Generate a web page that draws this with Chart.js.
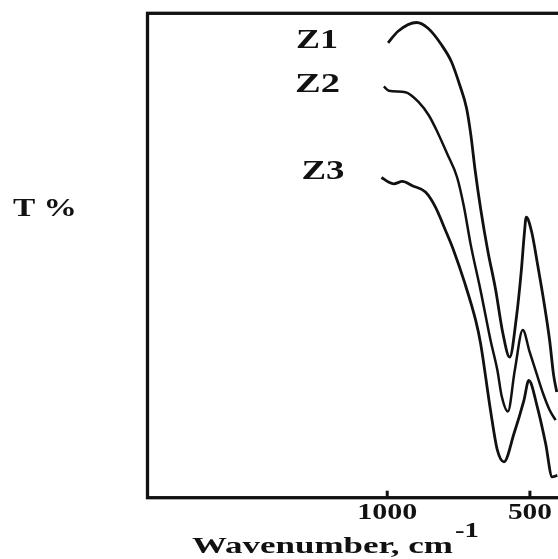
<!DOCTYPE html>
<html>
<head>
<meta charset="utf-8">
<script src="https://cdn.jsdelivr.net/npm/chart.js@4.4.1/dist/chart.umd.min.js"></script>
<style>
  html, body { margin: 0; padding: 0; background: #fff; overflow: hidden; }
  #wrap { width: 600px; height: 559px; }
</style>
</head>
<body>
<div id="wrap"><canvas id="ir-canvas" width="600" height="559"></canvas></div>
<script>
// 読み取り値 (cm-1, T%)
const z1Wave = [997, 962, 897, 857, 810, 775, 746, 722, 707, 692, 672, 648, 620, 595, 571, 547, 530, 520, 513, 494, 473, 452, 431, 417, 406];
const z1T    = [93.9, 96.3, 98.1, 96.9, 93.5, 90.0, 85.2, 80.4, 74.9, 67.6, 59.4, 51.1, 42.9, 34.0, 29.0, 37.4, 47.0, 54.2, 57.9, 54.9, 48.1, 40.8, 32.5, 25.3, 21.8];

const z2Wave = [1012, 994, 936, 889, 854, 825, 790, 755, 731, 708, 673, 638, 614, 599, 577, 553, 525, 501, 476, 452, 431, 410];
const z2T    = [84.9, 84.0, 83.7, 81.6, 78.9, 75.6, 71.0, 66.1, 60.0, 52.4, 42.8, 32.5, 26.3, 21.0, 17.8, 26.3, 34.6, 30.1, 25.5, 21.2, 18.1, 16.0];

const z3Wave = [1020, 994, 977, 947, 912, 866, 831, 796, 767, 731, 690, 673, 638, 614, 591, 556, 521, 504, 474, 445, 422, 404];
const z3T    = [66.1, 65.1, 64.8, 65.3, 64.4, 63.1, 60.0, 55.2, 51.0, 44.8, 36.6, 31.9, 18.0, 9.8, 7.4, 13.2, 20.1, 24.2, 18.7, 11.2, 4.3, 4.6];

const xTicks = [1000, 500];
const seriesLabels = ['Z1', 'Z2', 'Z3'];

function toPoints(xs, ys) {
    return xs.map(function(x, i) { return {x: x, y: ys[i]}; });
}

// 横に伸ばした文字 (元画像が横長になっている)
function stretchText(ctx, text, x, y, size, width, align) {
    ctx.save();
    ctx.font = 'bold ' + size + 'px "Liberation Serif", "DejaVu Serif", serif';
    ctx.fillStyle = '#111';
    ctx.textBaseline = 'alphabetic';
    ctx.textAlign = 'left';
    let w = ctx.measureText(text).width;
    let sx = width / w;
    let left = align === 'center' ? x - width / 2 : x;
    ctx.translate(left, y);
    ctx.scale(sx, 1);
    ctx.fillText(text, 0, 0);
    ctx.restore();
}

const framePlugin = {
    id: 'frame',
    afterDraw(chart) {
        const ctx = chart.ctx;
        const a = chart.chartArea;
        const xs = chart.scales.x;

        // 枠
        ctx.save();
        ctx.strokeStyle = '#111';
        ctx.lineWidth = 3.3;
        ctx.strokeRect(a.left, a.top, a.right - a.left, a.bottom - a.top);

        // 内向きの目盛
        ctx.lineWidth = 3;
        xTicks.forEach(function(v) {
            let px = xs.getPixelForValue(v);
            ctx.beginPath();
            ctx.moveTo(px, a.bottom);
            ctx.lineTo(px, a.bottom - 7);
            ctx.stroke();
        });
        ctx.restore();

        // 目盛ラベル
        stretchText(ctx, String(xTicks[0]), xs.getPixelForValue(xTicks[0]), 519, 24, 60, 'center');
        stretchText(ctx, String(xTicks[1]), xs.getPixelForValue(xTicks[1]), 519, 24, 44, 'center');

        // 軸タイトル
        stretchText(ctx, 'Wavenumber, cm', 192, 553, 24, 261, 'left');
        stretchText(ctx, '-1', 455, 537, 22, 24, 'left');
        stretchText(ctx, 'T %', 13, 216, 26, 64, 'left');

        // 系列ラベル
        stretchText(ctx, seriesLabels[0], 296, 47.5, 28, 42, 'left');
        stretchText(ctx, seriesLabels[1], 295, 91.5, 28, 45, 'left');
        stretchText(ctx, seriesLabels[2], 301.5, 179, 28, 43, 'left');
    }
};

function drawSpectrum(dom_id) {
    let ctx = document.getElementById(dom_id).getContext('2d');
    let base = {
        fill: false,
        cubicInterpolationMode: 'monotone',
        pointRadius: 0,
        borderColor: '#111',
        backgroundColor: '#111',
    };
    return new Chart(ctx, {
        type: 'line',
        data: {
            datasets: [
                Object.assign({label: seriesLabels[0], data: toPoints(z1Wave, z1T), borderWidth: 2.8}, base),
                Object.assign({label: seriesLabels[1], data: toPoints(z2Wave, z2T), borderWidth: 2.5}, base),
                Object.assign({label: seriesLabels[2], data: toPoints(z3Wave, z3T), borderWidth: 2.8}, base),
            ]
        },
        options: {
            responsive: false,
            animation: false,
            layout: { padding: { left: 147.5, right: 13, top: 13.3, bottom: 61.3 } },
            plugins: { legend: { display: false }, tooltip: { enabled: false } },
            scales: {
                x: { type: 'linear', reverse: true, min: 300, max: 1840, display: false },
                y: { type: 'linear', min: 0, max: 100, display: false }
            }
        },
        plugins: [framePlugin]
    });
}

drawSpectrum('ir-canvas');
</script>
</body>
</html>
